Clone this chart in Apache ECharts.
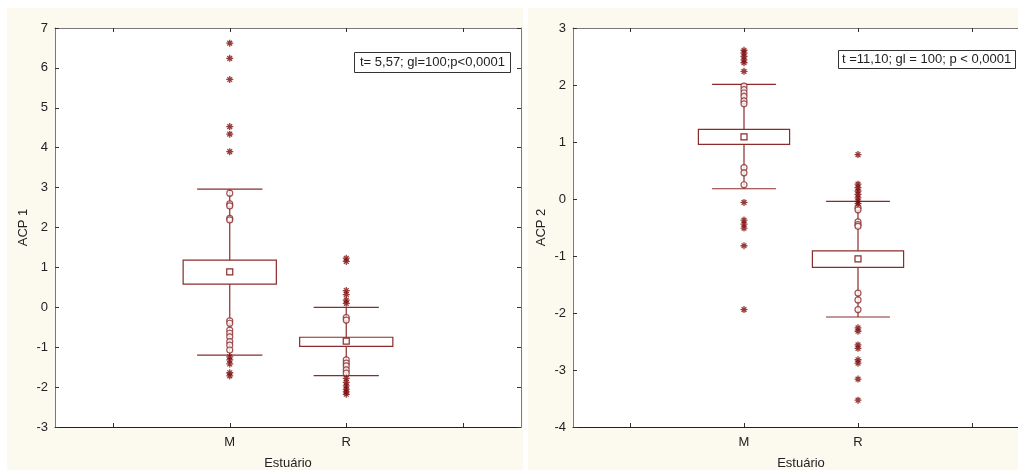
<!DOCTYPE html>
<html>
<head>
<meta charset="utf-8">
<script src="https://cdn.jsdelivr.net/npm/echarts@6/dist/echarts.min.js"></script>
<style>
  html, body { margin: 0; padding: 0; background: #fff; }
  #chart { width: 1018px; height: 470px; }
</style>
</head>
<body>
<div id="chart"></div>
<script>
// categorias do eixo x (as das pontas ficam vazias)
const categories = ['', 'M', 'R', ''];

// [bigode inferior, caixa inferior, média, caixa superior, bigode superior] para M e R
const acp1Stats = [[-1.20, 0.58, 0.89, 1.18, 2.96], [-1.71, -0.98, -0.85, -0.75, 0.00]];
const acp2Stats = [[0.18, 0.96, 1.09, 1.22, 2.01], [-2.07, -1.20, -1.05, -0.91, -0.04]];

// outliers (círculos)
const acp1OutM = [2.86, 2.59, 2.54, 2.23, 2.19, -0.34, -0.40, -0.57, -0.65, -0.74, -0.86, -0.95, -1.07];
const acp1OutR = [-0.26, -0.32, -1.32, -1.40, -1.47, -1.57, -1.65];
const acp2OutM = [1.98, 1.92, 1.86, 1.80, 1.72, 1.67, 0.55, 0.46, 0.25];
const acp2OutR = [-0.15, -0.19, -0.40, -0.45, -0.48, -1.65, -1.77, -1.94];

// extremos (asteriscos)
const acp1ExtM = [6.62, 6.24, 5.71, 4.53, 4.34, 3.90, -1.24, -1.32, -1.42, -1.64, -1.72];
const acp1ExtR = [1.23, 1.15, 0.42, 0.32, 0.18, 0.10, -1.78, -1.88, -1.97, -2.05, -2.12, -2.18];
const acp2ExtM = [2.61, 2.56, 2.50, 2.44, 2.39, 2.24, -0.06, -0.37, -0.44, -0.51, -0.82, -1.94];
const acp2ExtR = [0.78, 0.26, 0.20, 0.14, 0.08, 0.02, -0.04, -0.08, -2.26, -2.32, -2.56, -2.62, -2.82, -2.88, -3.16, -3.53];

const lineColor = '#8b2b2b';
const starColor = '#7d0a0a';
const font = 'Liberation Sans, Arial, sans-serif';
const star = 'path://M5 0L5 10M0 5L10 5M1.6 1.6L8.4 8.4M1.6 8.4L8.4 1.6';

function pts(idx, vals) {
    return vals.map(v => [idx, v]);
}

function renderStat(params, api) {
    const x = api.value(0);
    const lo = api.coord([x, api.value(1)]);
    const bl = api.coord([x, api.value(2)]);
    const mn = api.coord([x, api.value(3)]);
    const bh = api.coord([x, api.value(4)]);
    const hi = api.coord([x, api.value(5)]);
    const band = api.size([1, 0])[0];
    const bw = band * 0.4, cw = band * 0.28;
    const st = { stroke: lineColor, lineWidth: 1.2, fill: null };
    return {
        type: 'group',
        children: [
            { type: 'line', shape: { x1: lo[0], y1: lo[1], x2: hi[0], y2: hi[1] }, style: st },
            { type: 'line', shape: { x1: lo[0] - cw, y1: lo[1], x2: lo[0] + cw, y2: lo[1] }, style: st },
            { type: 'line', shape: { x1: hi[0] - cw, y1: hi[1], x2: hi[0] + cw, y2: hi[1] }, style: st },
            { type: 'rect', shape: { x: bh[0] - bw, y: bh[1], width: bw * 2, height: bl[1] - bh[1] },
              style: { stroke: lineColor, lineWidth: 1.2, fill: '#fff' } },
            { type: 'rect', shape: { x: mn[0] - 3, y: mn[1] - 3, width: 6, height: 6 },
              style: { stroke: lineColor, lineWidth: 1.2, fill: '#fff' } }
        ]
    };
}

function axesFor(grid, name, min, max) {
    const tick = { show: true, inside: true, alignWithLabel: true, interval: 0, length: 4, lineStyle: { color: '#333', width: 1 } };
    const xs = [
        {
            type: 'category', gridIndex: grid, data: categories, position: 'bottom',
            name: 'Estuário', nameLocation: 'middle', nameGap: 30,
            nameTextStyle: { fontFamily: font, fontSize: 13, color: '#222' },
            axisLine: { onZero: false, lineStyle: { color: '#222', width: 1 } },
            axisTick: tick,
            axisLabel: { interval: 0, margin: 9, fontFamily: font, fontSize: 13, color: '#222' },
            splitLine: { show: false }
        },
        {
            type: 'category', gridIndex: grid, data: categories, position: 'top',
            axisLine: { onZero: false, lineStyle: { color: '#7a7a7a', width: 1 } },
            axisTick: tick,
            axisLabel: { show: false },
            splitLine: { show: false }
        }
    ];
    const ys = [
        {
            type: 'value', gridIndex: grid, min: min, max: max, interval: 1, position: 'left',
            name: name, nameLocation: 'middle', nameGap: 25,
            nameTextStyle: { fontFamily: font, fontSize: 13, color: '#222' },
            axisLine: { show: true, onZero: false, lineStyle: { color: '#7a7a7a', width: 1 } },
            axisTick: { show: true, inside: true, length: 4, lineStyle: { color: '#333' } },
            axisLabel: { margin: 7, fontFamily: font, fontSize: 13, color: '#222' },
            splitLine: { show: false }
        },
        {
            type: 'value', gridIndex: grid, min: min, max: max, interval: 1, position: 'right',
            axisLine: { show: true, onZero: false, lineStyle: { color: '#7a7a7a', width: 1 } },
            axisTick: { show: true, inside: true, length: 4, lineStyle: { color: '#333' } },
            axisLabel: { show: false },
            splitLine: { show: false }
        }
    ];
    return { xs, ys };
}

function seriesFor(grid, stats, outM, outR, extM, extR) {
    const xi = grid * 2, yi = grid * 2;
    return [
        {
            type: 'custom', xAxisIndex: xi, yAxisIndex: yi, renderItem: renderStat,
            encode: { x: 0, y: [1, 2, 3, 4, 5] },
            data: [[1].concat(stats[0]), [2].concat(stats[1])]
        },
        {
            type: 'scatter', xAxisIndex: xi, yAxisIndex: yi, symbol: 'circle', symbolSize: 6,
            itemStyle: { color: '#fff', borderColor: lineColor, borderWidth: 1.2 },
            data: pts(1, outM).concat(pts(2, outR))
        },
        {
            type: 'scatter', xAxisIndex: xi, yAxisIndex: yi, symbol: star, symbolSize: 7,
            itemStyle: { color: 'rgba(0,0,0,0)', borderColor: starColor, borderWidth: 1.3 },
            data: pts(1, extM).concat(pts(2, extR))
        }
    ];
}

const a1 = axesFor(0, 'ACP 1', -3, 7);
const a2 = axesFor(1, 'ACP 2', -4, 3);

const chart = echarts.init(document.getElementById('chart'));
chart.setOption({
    animation: false,
    backgroundColor: '#fff',
    graphic: [
        { type: 'rect', z: -10, shape: { x: 7, y: 8, width: 516, height: 462 }, style: { fill: '#fcf9ef' } },
        { type: 'rect', z: -10, shape: { x: 528, y: 8, width: 490, height: 462 }, style: { fill: '#fcf9ef' } }
    ],
    title: [
        {
            text: 't= 5,57; gl=100;p<0,0001', left: 354, top: 52,
            borderWidth: 1, borderColor: '#333', backgroundColor: '#fff', padding: [4, 6],
            textStyle: { fontFamily: font, fontSize: 13, fontWeight: 'normal', color: '#222' }
        },
        {
            text: 't =11,10; gl = 100; p < 0,0001', left: 838, top: 50,
            borderWidth: 1, borderColor: '#333', backgroundColor: '#fff', padding: [3, 4],
            textStyle: { fontFamily: font, fontSize: 13, fontWeight: 'normal', color: '#222' }
        }
    ],
    grid: [
        { left: 55, top: 28, width: 466, height: 399, show: true, backgroundColor: '#fff', borderWidth: 0, outerBoundsMode: 'none' },
        { left: 573, top: 28, width: 456, height: 399, show: true, backgroundColor: '#fff', borderWidth: 0, outerBoundsMode: 'none' }
    ],
    xAxis: a1.xs.concat(a2.xs),
    yAxis: a1.ys.concat(a2.ys),
    series: seriesFor(0, acp1Stats, acp1OutM, acp1OutR, acp1ExtM, acp1ExtR)
        .concat(seriesFor(1, acp2Stats, acp2OutM, acp2OutR, acp2ExtM, acp2ExtR))
});
</script>
</body>
</html>
